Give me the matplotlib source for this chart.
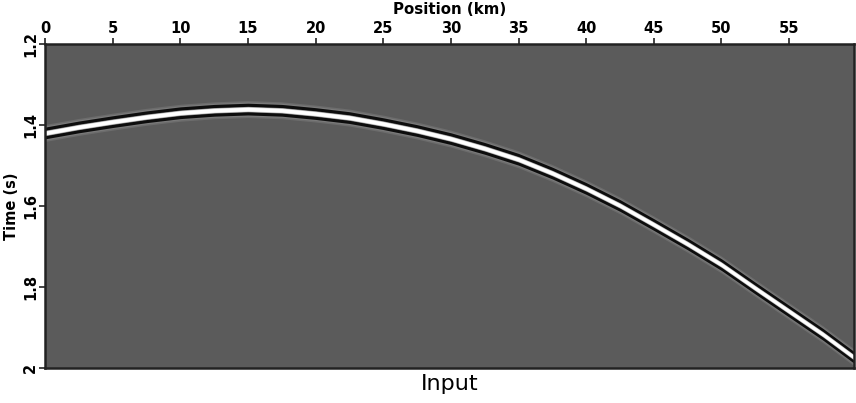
import matplotlib
matplotlib.use("Agg")
import matplotlib.pyplot as plt
import numpy as np

# Event picks (position in km, time in s)
position_km = [0.0, 2.5, 5.0, 7.5, 10.0, 12.5, 15.0, 17.5, 20.0, 22.5, 25.0, 27.5,
               30.0, 32.5, 35.0, 37.5, 40.0, 42.5, 45.0, 47.5, 50.0, 52.5, 55.0, 57.5, 59.8]
event_time_s = [1.419, 1.404, 1.391, 1.379, 1.369, 1.363, 1.360, 1.363, 1.371, 1.381, 1.396, 1.413,
                1.433, 1.457, 1.484, 1.518, 1.556, 1.598, 1.645, 1.693, 1.744, 1.802, 1.859, 1.916, 1.973]

x_ticks = [0, 5, 10, 15, 20, 25, 30, 35, 40, 45, 50, 55]
y_ticks = [1.2, 1.4, 1.6, 1.8, 2.0]
y_ticklabels = ["1.2", "1.4", "1.6", "1.8", "2"]

fig = plt.figure(figsize=(8.56, 4.03), dpi=100)
ax = fig.add_axes([0.0526, 0.0861, 0.9451, 0.8040])
ax.set_facecolor("#5b5b5b")

x = np.array(position_km)
t = np.array(event_time_s)
# wavelet bands (outer to inner)
layers = [(0.021, "#6c6c6c"), (0.0175, "#7a7a7a"), (0.0145, "#0d0d0d"),
          (0.0068, "#8a8a8a"), (0.0056, "#d8d8d8"), (0.0044, "#ffffff")]
for half, col in layers:
    ax.fill_between(x, t - half, t + half, color=col, linewidth=0, zorder=2)

ax.set_xlim(0, 59.8)
ax.set_ylim(2.0, 1.2)
ax.xaxis.tick_top()
ax.xaxis.set_label_position("top")
ax.set_xticks(x_ticks)
ax.set_xticklabels([str(v) for v in x_ticks], fontsize=10.5, fontweight="bold")
ax.set_yticks(y_ticks)
ax.set_yticklabels(y_ticklabels, fontsize=10.5, fontweight="bold", rotation=90, va="center")
ax.tick_params(axis="x", direction="out", length=4, width=1.2, color="#222222", pad=2)
ax.tick_params(axis="y", direction="out", length=4, width=1.2, color="#222222", pad=1)
ax.set_xlabel("Position (km)", fontsize=10.8, fontweight="bold", labelpad=5)
ax.set_ylabel("Time (s)", fontsize=10.5, fontweight="bold", labelpad=3)
for s in ax.spines.values():
    s.set_color("#222222")
    s.set_linewidth(1.8)
    s.set_zorder(5)

fig.text(0.525, 0.047, "Input", ha="center", va="center", fontsize=16)

fig.savefig("out.png", dpi=100)
